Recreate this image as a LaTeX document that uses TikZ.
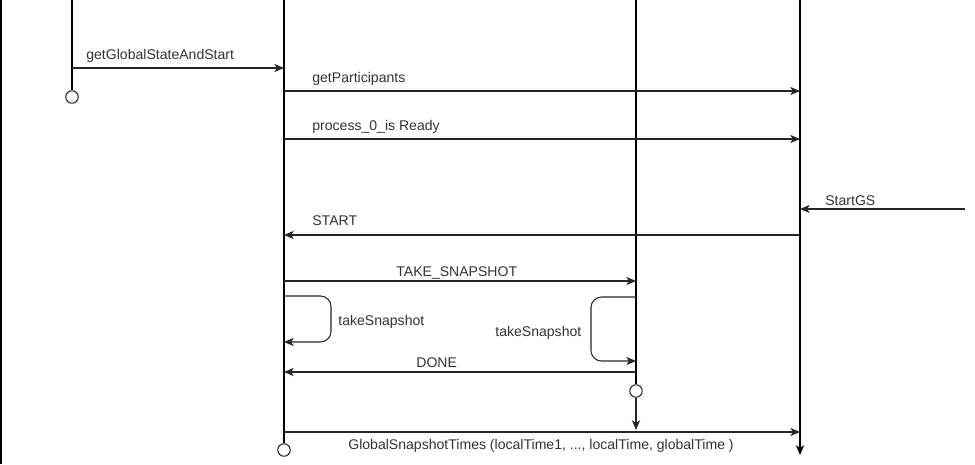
\documentclass[tikz,border=0pt]{standalone}
\usepackage{fontspec}
\setmainfont{Liberation Sans}
\usetikzlibrary{arrows.meta}

\tikzset{
  life/.style={draw=black, line width=0.7pt},
  msg/.style={draw=black!85, line width=0.6pt, -{Stealth[length=5.5pt,width=4.6pt,inset=1.4pt]}},
  endcirc/.style={circle, draw=black!85, line width=0.6pt, fill=white, inner sep=0pt, minimum size=0.25cm},
  lbl/.style={text=black!80, inner sep=0pt, anchor=base west}
}

\begin{document}
\begin{tikzpicture}[x=0.02cm, y=-0.02cm, font=\fontsize{8}{9}\selectfont]
                \useasboundingbox (0,0) rectangle (975,464);

                %% frame
                \draw[black, line width=1.2pt] (1,0) -- (1,464);

                %% lifelines
                \coordinate (topA) at (72,0);
                \coordinate (topB) at (284,0);
                \coordinate (topC) at (636,0);
                \coordinate (topD) at (800,0);
                \node[endcirc] (endA) at (72,97) {};
                \node[endcirc] (endB) at (284,450) {};
                \node[endcirc] (midC) at (636,391) {};
                \coordinate (endC) at (636,430);
                \coordinate (endD) at (800,455);

                \draw[life] (topA) -- (endA);
                \draw[life] (topB) -- (endB);
                \draw[life] (topC) -- (midC);
                \draw[msg, line width=0.7pt] (midC) -- (endC);
                \draw[msg, line width=0.7pt, draw=black] (topD) -- (endD);

                %% getGlobalStateAndStart
                \coordinate (gsA) at (72,68);
                \coordinate (gsB) at (284,68);
                \draw[msg] (gsA) -- (gsB);
                \node[lbl] (lgs) at (86,59) {getGlobalStateAndStart};

                %% getParticipants
                \coordinate (gpB) at (284,91);
                \coordinate (gpD) at (800,91);
                \draw[msg] (gpB) -- (gpD);
                \node[lbl] (lgp) at (312,82) {getParticipants};

                %% process_0_is Ready
                \coordinate (prB) at (284,139);
                \coordinate (prD) at (800,139);
                \draw[msg] (prB) -- (prD);
                \node[lbl] (lpr) at (312,130) {process\_0\_is Ready};

                %% StartGS
                \coordinate (sgX) at (965,209);
                \coordinate (sgD) at (800,209);
                \draw[msg] (sgX) -- (sgD);
                \node[lbl] (lsg) at (825,205) {StartGS};

                %% START
                \coordinate (stD) at (800,235);
                \coordinate (stB) at (284,235);
                \draw[msg] (stD) -- (stB);
                \node[lbl] (lst) at (312,225) {START};

                %% TAKE_SNAPSHOT
                \coordinate (tsB) at (284,281);
                \coordinate (tsC) at (636,281);
                \draw[msg] (tsB) -- (tsC);
                \node[lbl] (lts) at (396,276) {TAKE\_SNAPSHOT};

                %% takeSnapshot (self)
                \coordinate (ksB1) at (284,296);
                \coordinate (ksB2) at (284,342);
                \draw[msg, rounded corners=6pt] (ksB1) -- (331,296) -- (331,342) -- (ksB2);
                \node[lbl] (lksB) at (338,325) {takeSnapshot};

                \coordinate (ksC1) at (636,297);
                \coordinate (ksC2) at (636,361);
                \draw[msg, rounded corners=6pt] (ksC1) -- (591,297) -- (591,361) -- (ksC2);
                \node[lbl] (lksC) at (495,336) {takeSnapshot};

                %% DONE
                \coordinate (dnC) at (636,372);
                \coordinate (dnB) at (284,372);
                \draw[msg] (dnC) -- (dnB);
                \node[lbl] (ldn) at (416,367) {DONE};

                %% GlobalSnapshotTimes
                \coordinate (gtB) at (284,432);
                \coordinate (gtD) at (800,432);
                \draw[msg] (gtB) -- (gtD);
                \node[lbl] (lgt) at (348,449) {GlobalSnapshotTimes (localTime1, ..., localTime, globalTime )};

\end{tikzpicture}
\end{document}
